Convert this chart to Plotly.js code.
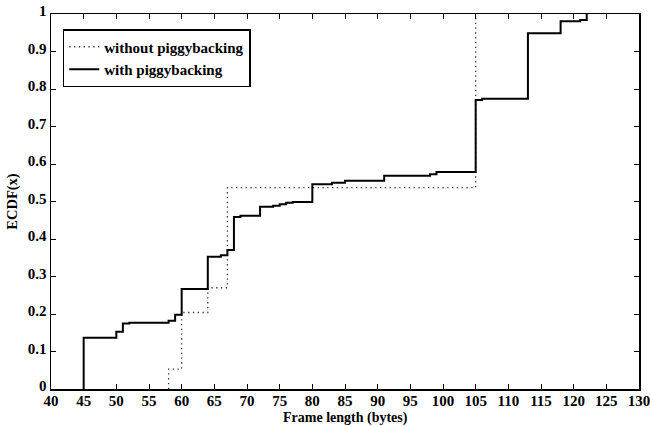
<!DOCTYPE html>
<html><head><meta charset="utf-8">
<script src="https://cdn.plot.ly/plotly-3.0.1.min.js"></script>
<style>html,body{margin:0;padding:0;background:#fff}#plot{width:650px;height:426px}</style>
</head><body><div id="plot"></div>
<script>
// Step points (x = frame length in bytes, y = ECDF value)
var withoutX = [58, 58, 60, 64, 67, 105];
var withoutY = [0, 0.053, 0.204, 0.270, 0.537, 1.0];

var withX = [45, 45, 50, 51, 52, 58, 59, 60, 64, 66, 67, 68, 69, 72, 74, 75, 76, 77, 80, 83, 85, 91, 98, 99, 105, 106, 113, 118, 121, 122];
var withY = [0, 0.137, 0.153, 0.175, 0.177, 0.182, 0.198, 0.267, 0.353, 0.357, 0.371, 0.459, 0.462, 0.486, 0.489, 0.4925, 0.497, 0.499, 0.546, 0.550, 0.5555, 0.569, 0.5725, 0.579, 0.771, 0.774, 0.949, 0.981, 0.984, 1.0];

var seriesNames = ["without piggybacking", "with piggybacking"];
var xTicks = [40,45,50,55,60,65,70,75,80,85,90,95,100,105,110,115,120,125,130];
var yTicks = [0,0.1,0.2,0.3,0.4,0.5,0.6,0.7,0.8,0.9,1];
var yTickText = ["0","0.1","0.2","0.3","0.4","0.5","0.6","0.7","0.8","0.9","1"];
var xTitle = "Frame length (bytes)";
var yTitle = "ECDF(x)";

var FAM = "Liberation Serif";
function b(s) { return "<b>" + s + "</b>"; }

var traces = [
  {x: withoutX, y: withoutY, mode: "lines", line: {shape: "hv", color: "#333", width: 1.3, dash: "1.3px,3.5px"}, name: b(seriesNames[0])},
  {x: withX, y: withY, mode: "lines", line: {shape: "hv", color: "#000", width: 2}, name: b(seriesNames[1])}
];

function axisBase() {
  return {
    showline: true, linecolor: "#000", linewidth: 1.5, mirror: "ticks",
    ticks: "inside", ticklen: 5, tickcolor: "#000", tickwidth: 1,
    showgrid: false, zeroline: false, ticklabeloverflow: "allow",
    tickfont: {family: FAM, size: 15, color: "#000"}
  };
}

var layout = {
  width: 650, height: 426,
  margin: {l: 51, r: 11, t: 14, b: 37},
  paper_bgcolor: "#fff", plot_bgcolor: "#fff",
  font: {family: FAM, color: "#000"},
  showlegend: true,
  legend: {
    x: 0.02, y: 0.96, xanchor: "left", yanchor: "top",
    bgcolor: "#fff", bordercolor: "#000", borderwidth: 1.5,
    font: {family: FAM, size: 15, color: "#000"},
    itemwidth: 30, tracegroupgap: 0
  },
  xaxis: Object.assign(axisBase(), {
    range: [40, 130], tickmode: "array", tickvals: xTicks,
    ticktext: xTicks.map(function (v) { return b(v); }), ticklabelstandoff: -3
  }),
  yaxis: Object.assign(axisBase(), {
    range: [0, 1], tickmode: "array", tickvals: yTicks, ticktext: yTickText.map(b),
    ticklabelshift: -3,
    title: {text: b(yTitle), font: {family: FAM, size: 14.5, color: "#000"}, standoff: 6}
  }),
  annotations: [{
    text: b(xTitle), xref: "paper", yref: "paper", x: 0.5, y: -37 / 375,
    xanchor: "center", yanchor: "bottom", showarrow: false, borderpad: 0, yshift: -1,
    font: {family: FAM, size: 14, color: "#000"}
  }]
};

Plotly.newPlot("plot", traces, layout, {displayModeBar: false, staticPlot: true});
</script>
</body></html>
